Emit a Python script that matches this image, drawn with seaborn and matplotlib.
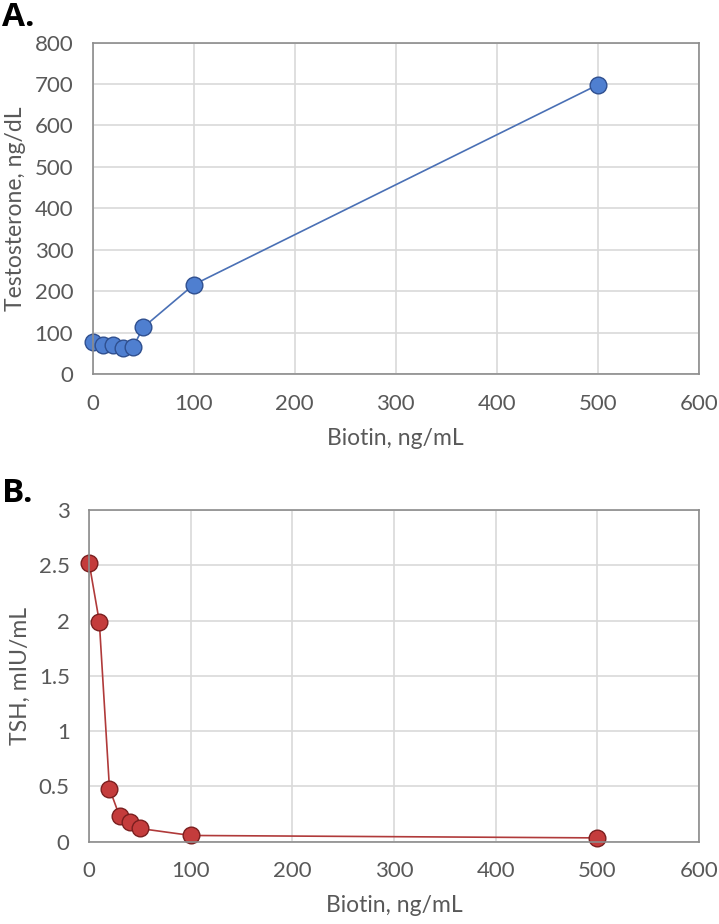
import matplotlib
matplotlib.use("Agg")
import matplotlib.pyplot as plt
import seaborn as sns
import pandas as pd

# Panel A: testosterone vs biotin
biotin = [0, 10, 20, 30, 40, 50, 100, 500]
testosterone = [77, 71, 70, 63, 66, 113, 216, 698]

# Panel B: TSH vs biotin
tsh = [2.52, 1.99, 0.48, 0.23, 0.175, 0.12, 0.057, 0.035]

sns.set_theme(style="whitegrid")
plt.rcParams['font.family'] = ['Lato', 'DejaVu Sans']

tick_color = '#595959'
grid_color = '#d9d9d9'
spine_color = '#8c8c8c'

fig = plt.figure(figsize=(7.19, 9.24), dpi=100)
ax_a = fig.add_axes([0.129, 0.595, 0.843, 0.359])
ax_b = fig.add_axes([0.124, 0.089, 0.848, 0.359])

df_a = pd.DataFrame({'biotin': biotin, 'valor': testosterone})
df_b = pd.DataFrame({'biotin': biotin, 'valor': tsh})

sns.lineplot(data=df_a, x='biotin', y='valor', ax=ax_a, color='#4a70b5',
             linewidth=1.2, marker='o', markersize=12,
             markerfacecolor='#4f7fd0', markeredgecolor='#2f4f8f',
             markeredgewidth=1.0, clip_on=False)
sns.lineplot(data=df_b, x='biotin', y='valor', ax=ax_b, color='#b03a3a',
             linewidth=1.2, marker='o', markersize=12,
             markerfacecolor='#c43c3c', markeredgecolor='#7a1f1f',
             markeredgewidth=1.0, clip_on=False)

def estilo(ax, ylim, yticks, ylabel):
    ax.set_xlim(0, 600)
    ax.set_ylim(*ylim)
    ax.set_xticks(range(0, 601, 100))
    ax.set_yticks(yticks)
    ax.set_xlabel('Biotin, ng/mL', fontsize=16.5, color=tick_color, labelpad=10)
    ax.set_ylabel(ylabel, fontsize=16.5, color=tick_color, labelpad=6)
    ax.tick_params(axis='both', labelsize=16, colors=tick_color, length=0, pad=14)
    ax.grid(True, color=grid_color, linewidth=1.2)
    ax.set_facecolor('white')
    for s in ax.spines.values():
        s.set_visible(True)
        s.set_color(spine_color)
        s.set_linewidth(1.2)

estilo(ax_a, (0, 800), range(0, 801, 100), 'Testosterone, ng/dL')
estilo(ax_b, (0, 3), [0, 0.5, 1, 1.5, 2, 2.5, 3], 'TSH, mIU/mL')
ax_b.set_yticklabels(['0', '0.5', '1', '1.5', '2', '2.5', '3'])

fig.text(0.003, 0.972, 'A.', fontsize=24, fontweight='bold', color='black',
         family=['Open Sans', 'DejaVu Sans'])
fig.text(0.003, 0.457, 'B.', fontsize=24, fontweight='bold', color='black',
         family=['Open Sans', 'DejaVu Sans'])

fig.savefig('out.png', dpi=100, facecolor='white')
